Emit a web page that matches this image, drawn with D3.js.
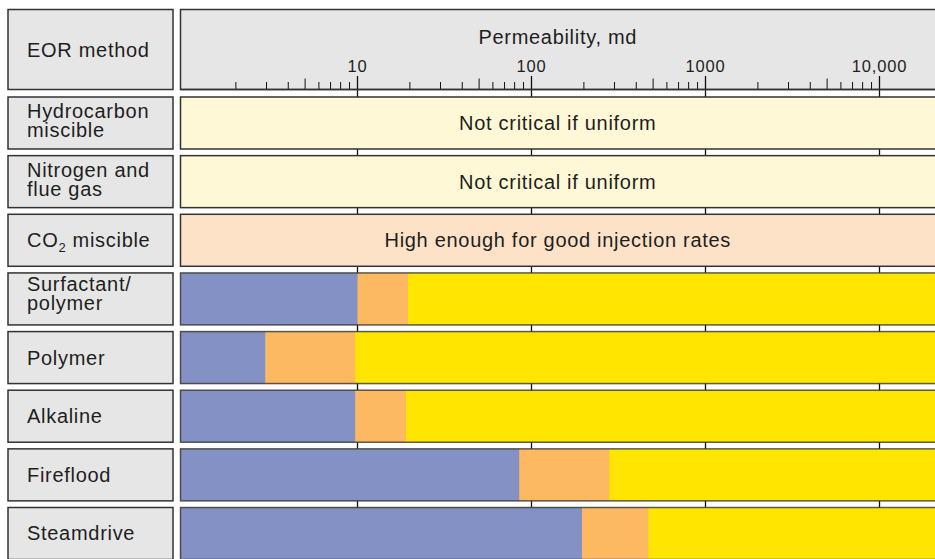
<!DOCTYPE html>
<html>
<head>
<meta charset="utf-8">
<script src="https://cdn.jsdelivr.net/npm/d3@7"></script>
<style>
  body { margin: 0; background: #fff; }
  svg { display: block; font-family: "Liberation Sans", Arial, sans-serif; }
</style>
</head>
<body>
<script>
// EOR methods (row labels, split into lines)
var methods = ["hc", "n2", "co2", "surf", "poly", "alk", "fire", "steam"];
var methodLines = [
  ["Hydrocarbon", "miscible"],
  ["Nitrogen and", "flue gas"],
  ["CO2 miscible"],
  ["Surfactant/", "polymer"],
  ["Polymer"],
  ["Alkaline"],
  ["Fireflood"],
  ["Steamdrive"],
];
// rows that only carry a note instead of bars
var noteRows = ["hc", "n2", "co2"];
var noteText = ["Not critical if uniform", "Not critical if uniform", "High enough for good injection rates"];
// permeability limits (md): blue up to first value, orange up to second, yellow beyond
var barMethods = ["surf", "poly", "alk", "fire", "steam"];
var blueEnd = [10, 2.95, 9.7, 85, 195];
var orangeEnd = [19.5, 9.7, 19, 280, 470];
var majorTicks = [10, 100, 1000, 10000];
var majorLabels = ["10", "100", "1000", "10,000"];

var W = 935, H = 559;
var colors = { blue: "#8391c5", orange: "#fdb962", yellow: "#ffe500", cream: "#fef8d6", peach: "#fde2c8", gray: "#e6e6e6" };
var stroke = "#333";
var ink = "#1e1e1e";

var x = d3.scaleLog().domain([1, 10000]).range([183.5, 879.5]);
var xEnd = 937;
var panelLeft = 180.5;

var y = d3.scaleBand()
  .domain(methods)
  .range([97, 559.5])
  .paddingInner(6.65 / 58.65)
  .paddingOuter(0);

var svg = d3.select("body").append("svg").attr("width", W).attr("height", H);

function label(sel, size) {
  return sel.attr("font-size", size).attr("fill", ink).attr("letter-spacing", size > 18 ? 0.7 : 0.8);
}

// left column: header label box
svg.append("rect")
  .attr("x", 8).attr("y", 9.5).attr("width", 165).attr("height", 80)
  .attr("fill", colors.gray).attr("stroke", stroke).attr("stroke-width", 1.5);
label(svg.append("text"), 20)
  .attr("x", 27).attr("y", 57)
  .text("EOR method");

// header panel with axis
svg.append("rect")
  .attr("x", panelLeft).attr("y", 9.5).attr("width", xEnd - panelLeft).attr("height", 80)
  .attr("fill", colors.gray).attr("stroke", stroke).attr("stroke-width", 1.5);
label(svg.append("text"), 20)
  .attr("x", (panelLeft + W) / 2).attr("y", 44)
  .attr("text-anchor", "middle")
  .text("Permeability, md");

// gridlines at decades, running down through the row gaps
svg.append("g").selectAll("line")
  .data(majorTicks)
  .join("line")
  .attr("x1", (d) => x(d)).attr("x2", (d) => x(d))
  .attr("y1", 76).attr("y2", H)
  .attr("stroke", "#111").attr("stroke-width", 1.3);

// minor ticks
var minor = x.ticks().filter((d) => majorTicks.indexOf(d) < 0 && d > 1);
svg.append("g").selectAll("line")
  .data(minor)
  .join("line")
  .attr("x1", (d) => x(d)).attr("x2", (d) => x(d))
  .attr("y1", (d) => (String(d)[0] === "5" ? 78.5 : 82))
  .attr("y2", 89.5)
  .attr("stroke", "#111").attr("stroke-width", 1);

// baseline
svg.append("line")
  .attr("x1", panelLeft).attr("x2", xEnd).attr("y1", 89.5).attr("y2", 89.5)
  .attr("stroke", stroke).attr("stroke-width", 1.5);

label(svg.append("g").selectAll("text")
  .data(majorTicks)
  .join("text"), 16.5)
  .attr("x", (d) => x(d)).attr("y", 72)
  .attr("text-anchor", "middle")
  .text((d, i) => majorLabels[i]);

// left label boxes
var labels = svg.append("g").selectAll("g")
  .data(methods)
  .join("g")
  .attr("transform", (d) => `translate(0,${y(d)})`);

labels.append("rect")
  .attr("x", 8).attr("y", 0).attr("width", 165).attr("height", y.bandwidth())
  .attr("fill", colors.gray).attr("stroke", stroke).attr("stroke-width", 1.5);

labels.each(function (d, i) {
  var lines = methodLines[i];
  var t = label(d3.select(this).append("text"), 20).attr("x", 27);
  var mid = y.bandwidth() / 2;
  // first baseline: two-line labels sit a little lower in the top rows
  var first = lines.length === 1 ? mid + 7 : (d === "surf" ? mid - 8 : mid - 4.7);
  lines.forEach(function (ln, j) {
    var ty = first + j * 18.8;
    if (ln === "CO2 miscible") {
      t.attr("y", ty);
      t.append("tspan").text("CO");
      t.append("tspan").attr("font-size", 13).attr("dy", 5).text("2");
      t.append("tspan").attr("dy", -5).text(" miscible");
    } else {
      t.append("tspan").attr("x", 27).attr("y", ty).text(ln);
    }
  });
});

// note rows
var notes = svg.append("g").selectAll("g")
  .data(noteRows)
  .join("g")
  .attr("transform", (d) => `translate(0,${y(d)})`);
notes.append("rect")
  .attr("x", panelLeft).attr("width", xEnd - panelLeft).attr("height", y.bandwidth())
  .attr("fill", (d) => (d === "co2" ? colors.peach : colors.cream))
  .attr("stroke", stroke).attr("stroke-width", 1.5);
label(notes.append("text"), 20)
  .attr("x", (panelLeft + W) / 2).attr("y", y.bandwidth() / 2 + 7)
  .attr("text-anchor", "middle")
  .text((d, i) => noteText[i]);

// bar rows
var bars = svg.append("g").selectAll("g")
  .data(barMethods)
  .join("g")
  .attr("transform", (d) => `translate(0,${y(d)})`);
bars.append("rect")
  .attr("x", panelLeft).attr("width", xEnd - panelLeft).attr("height", y.bandwidth())
  .attr("fill", colors.yellow);
bars.append("rect")
  .attr("x", panelLeft).attr("width", (d, i) => x(orangeEnd[i]) - panelLeft).attr("height", y.bandwidth())
  .attr("fill", colors.orange);
bars.append("rect")
  .attr("x", panelLeft).attr("width", (d, i) => x(blueEnd[i]) - panelLeft).attr("height", y.bandwidth())
  .attr("fill", colors.blue);
bars.append("rect")
  .attr("x", panelLeft).attr("width", xEnd - panelLeft).attr("height", y.bandwidth())
  .attr("fill", "none").attr("stroke", stroke).attr("stroke-width", 1.5).attr("stroke-opacity", 0.8);
</script>
</body>
</html>
